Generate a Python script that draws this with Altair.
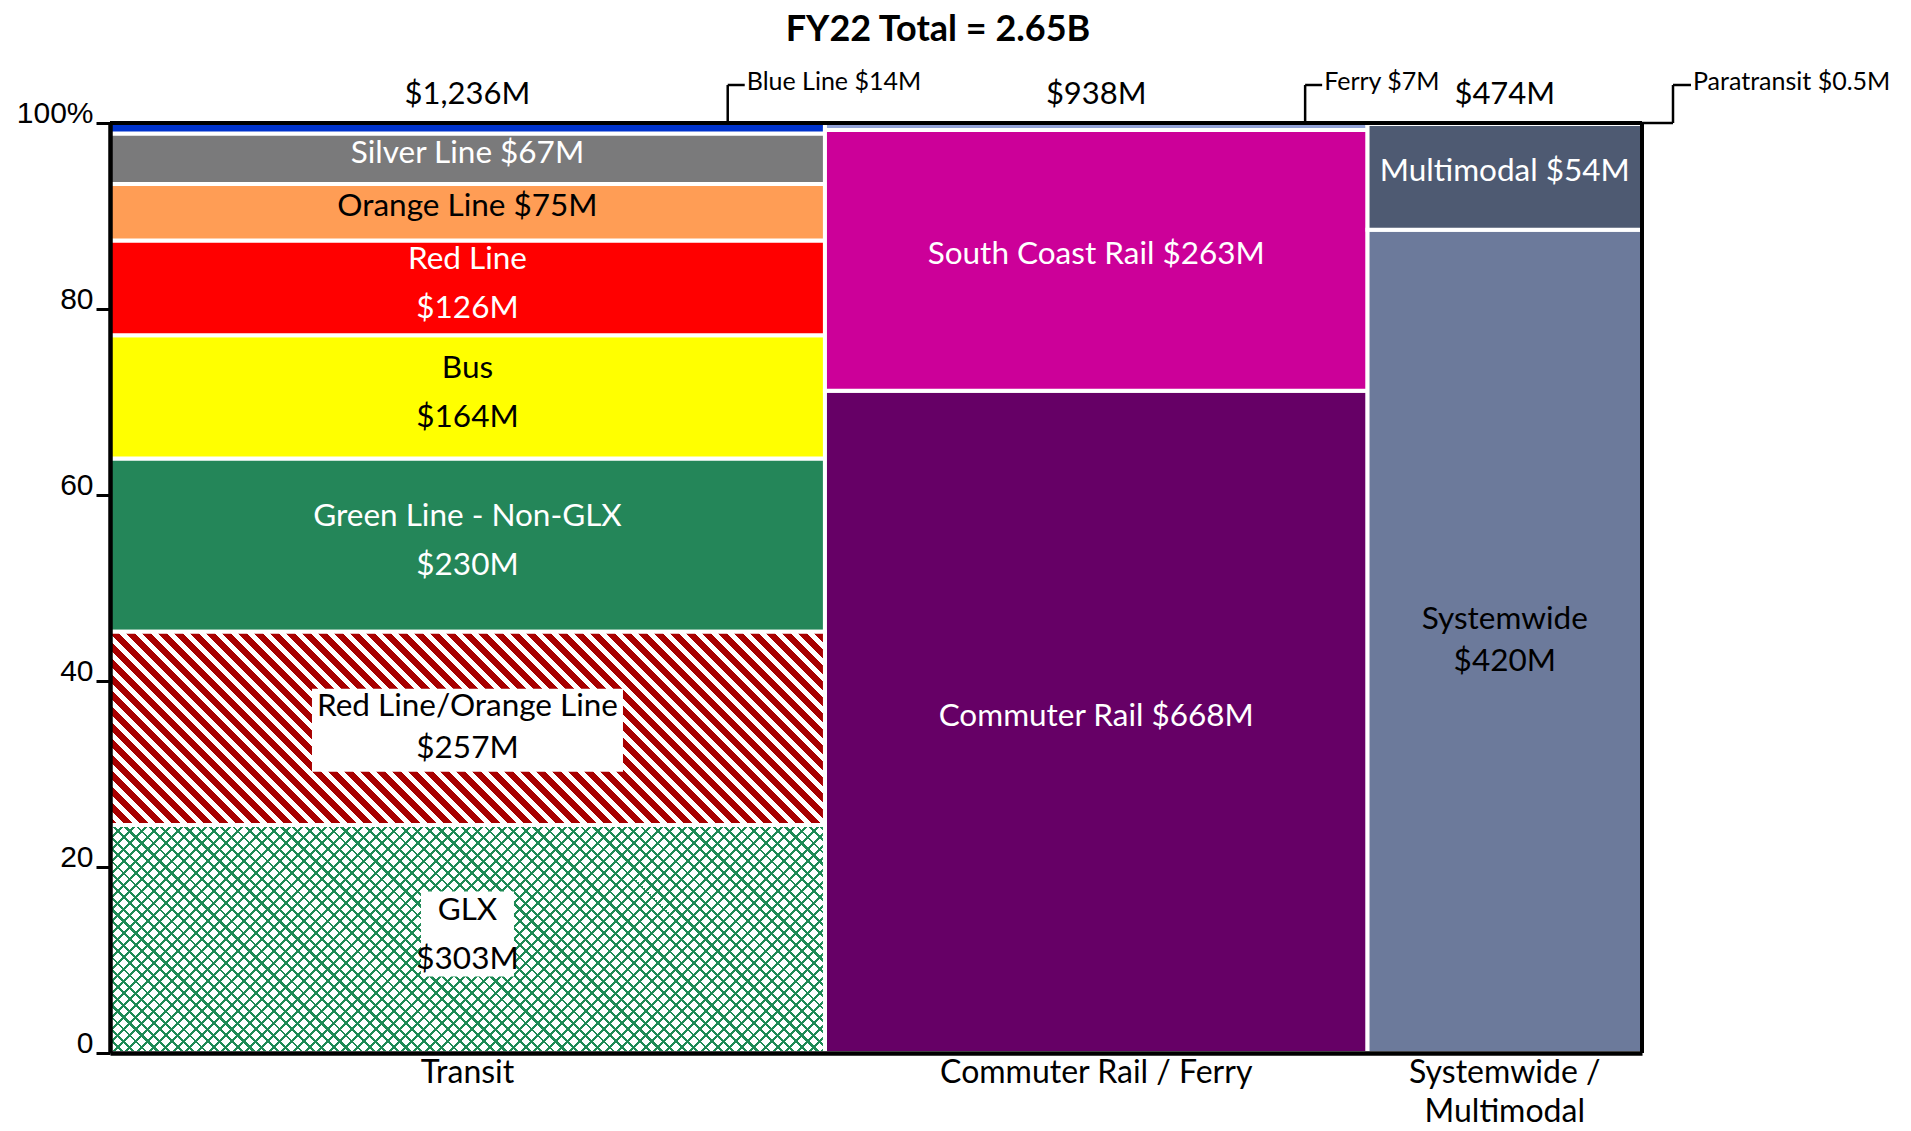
import altair as alt
import pandas as pd

# ---------------- data ----------------
title_text = "FY22 Total = 2.65B"
columns = ["Transit", "Commuter Rail / Ferry", "Systemwide / Multimodal"]
column_axis_labels = ["Transit", "Commuter Rail / Ferry", "Systemwide /\nMultimodal"]
column_total_labels = ["$1,236M", "$938M", "$474M"]

transit_names = ["GLX", "Red Line/Orange Line", "Green Line - Non-GLX", "Bus",
                 "Red Line", "Orange Line", "Silver Line", "Blue Line"]
transit_values = [303, 257, 230, 164, 126, 75, 67, 14]
cr_names = ["Commuter Rail", "South Coast Rail", "Ferry"]
cr_values = [668, 263, 7]
sys_names = ["Systemwide", "Multimodal", "Paratransit"]
sys_values = [420, 54, 0.5]

y_tick_values = [0, 0.2, 0.4, 0.6, 0.8, 1.0]

# ---------------- style ----------------
PLOT_W, PLOT_H = 1532, 930
FONT = "Lato"
FILL = {"Blue Line": "#0033cc", "Silver Line": "#7a7a7b", "Orange Line": "#ff9d55",
        "Red Line": "#ff0000", "Bus": "#ffff00", "Green Line - Non-GLX": "#248659",
        "Commuter Rail": "#660066", "South Coast Rail": "#cc0099", "Ferry": "#93a3d8",
        "Systemwide": "#6c7a9b", "Multimodal": "#4e5a72", "Paratransit": "#8090b0",
        "Red Line/Orange Line": "#a80000", "GLX": "#ffffff"}
TEXT_COLOR = {"Silver Line": "white", "Orange Line": "black", "Red Line": "white",
              "Bus": "black", "Green Line - Non-GLX": "white", "Red Line/Orange Line": "black",
              "GLX": "black", "Commuter Rail": "white", "South Coast Rail": "white",
              "Systemwide": "black", "Multimodal": "white"}
TWO_LINE_WIDE = {"Red Line", "Bus", "Green Line - Non-GLX", "GLX"}
TWO_LINE_TIGHT = {"Red Line/Orange Line", "Systemwide"}
CALLOUTS = {"Blue Line": 0.864, "Ferry": 0.885}   # leader position as share of column width
EDGE_CALLOUT = "Paratransit"
LABEL_BOX = {"Red Line/Orange Line": (311, 83, 2), "GLX": (93, 85, -5)}  # w, h, dy px

# ---------------- table ----------------
rows = []
cols = []
xcum = 0.0
for col, lab, tlab, names, vals in zip(columns, column_axis_labels, column_total_labels,
                                       [transit_names, cr_names, sys_names],
                                       [transit_values, cr_values, sys_values]):
    tot = sum(vals)
    ycum = 0.0
    for n, v in zip(names, vals):
        if n in TWO_LINE_WIDE or n in TWO_LINE_TIGHT:
            label = f"{n}\n${v:g}M"
        else:
            label = f"{n} ${v:g}M"
        rows.append(dict(col=col, name=n, value=v, x0=xcum, x1=xcum + tot,
                         y0=ycum / tot, y1=(ycum + v) / tot,
                         xc=xcum + tot / 2, yc=(ycum + v / 2) / tot,
                         label=label, fill=FILL[n], tcolor=TEXT_COLOR.get(n, "black"),
                         lx=xcum + CALLOUTS.get(n, 0) * tot))
        ycum += v
    cols.append(dict(col=col, xc=xcum + tot / 2, total=tlab, axis=lab))
    xcum += tot
TOTAL = xcum
df = pd.DataFrame(rows)
cdf = pd.DataFrame(cols)

xs = alt.Scale(domain=[0, TOTAL], nice=False, zero=False)
ys = alt.Scale(domain=[0, 1], nice=False, zero=False)


def stripes(W, H, period, frac, c_line, c_bg, back):
    k = (W + H) / (W * W + H * H)
    if back:  # "\" stripes
        x1, y1, x2, y2 = 0, 1, k * W, 1 - k * H
    else:     # "/" stripes
        x1, y1, x2, y2 = 0, 0, k * W, k * H
    n = (W + H) / period
    stops = []
    i = 0
    while i < n:
        a = min(i / n, 1)
        b = min((i + frac) / n, 1)
        c = min((i + 1) / n, 1)
        stops += [alt.GradientStop(offset=round(a, 5), color=c_line),
                  alt.GradientStop(offset=round(b, 5), color=c_line),
                  alt.GradientStop(offset=round(b, 5), color=c_bg),
                  alt.GradientStop(offset=round(c, 5), color=c_bg)]
        i += 1
    return alt.LinearGradient(gradient="linear", stops=stops, x1=x1, y1=y1, x2=x2, y2=y2)


transit_total = sum(transit_values)
W_tr = PLOT_W * transit_total / TOTAL
H_ro = PLOT_H * transit_values[transit_names.index("Red Line/Orange Line")] / transit_total
H_glx = PLOT_H * transit_values[transit_names.index("GLX")] / transit_total
grad_ro = stripes(W_tr, H_ro, 16, 0.56, "#a80000", "#ffffff", True)
grad_glx1 = stripes(W_tr, H_glx, 12, 0.25, "#1e8a55", "#ffffff", False)
grad_glx2 = stripes(W_tr, H_glx, 12, 0.25, "#1e8a55", "rgba(255,255,255,0)", True)

yaxis = alt.Axis(values=y_tick_values, title=None, grid=False,
                 labelExpr="datum.value == 1 ? '100%' : format(datum.value * 100, 'd')",
                 domainColor="black", domainWidth=4.5, tickColor="black", tickWidth=3,
                 tickSize=14, labelFont="Liberation Sans", labelFontSize=30,
                 labelColor="black", labelPadding=3, labelBaseline="alphabetic",
                 labelOffset=-1, zindex=1)
xaxis = alt.Axis(labels=False, ticks=False, title=None, grid=False, domainColor="black",
                 domainWidth=4.5, zindex=1)

hatched = set(LABEL_BOX)
base_enc = dict(x=alt.X("x0:Q", scale=xs, axis=xaxis), x2="x1:Q",
                y=alt.Y("y0:Q", scale=ys, axis=yaxis), y2="y1:Q")

solid = alt.Chart(df[~df.name.isin(hatched)]).mark_rect(stroke="white", strokeWidth=4).encode(
    fill=alt.Fill("fill:N", scale=None), **base_enc)
ro = alt.Chart(df[df.name == "Red Line/Orange Line"]).mark_rect(
    fill=grad_ro, stroke="white", strokeWidth=4).encode(**base_enc)
glx1 = alt.Chart(df[df.name == "GLX"]).mark_rect(
    fill=grad_glx1, stroke="white", strokeWidth=4).encode(**base_enc)
glx2 = alt.Chart(df[df.name == "GLX"]).mark_rect(
    fill=grad_glx2, stroke="white", strokeWidth=4).encode(**base_enc)

boxes = []
for n, (bw, bh, bdy) in LABEL_BOX.items():
    boxes.append(alt.Chart(df[df.name == n]).mark_rect(
        fill="white", xOffset=-bw / 2, x2Offset=bw / 2, yOffset=-bh / 2 + bdy, y2Offset=bh / 2 + bdy
    ).encode(x=alt.X("xc:Q", scale=xs), x2="xc:Q", y=alt.Y("yc:Q", scale=ys), y2="yc:Q"))

in_bar = df[df.name.isin(TEXT_COLOR.keys())]
label_layers = []
for subset, lh, dy in [(in_bar[~in_bar.name.isin(TWO_LINE_WIDE | TWO_LINE_TIGHT)], 40, -5),
                       (in_bar[in_bar.name.isin(TWO_LINE_WIDE)], 49, -28),
                       (in_bar[in_bar.name.isin(TWO_LINE_TIGHT)], 42, -21)]:
    label_layers.append(alt.Chart(subset).mark_text(
        font=FONT, fontSize=31.5, lineBreak="\n", lineHeight=lh, baseline="middle", dy=dy
    ).encode(x=alt.X("xc:Q", scale=xs), y=alt.Y("yc:Q", scale=ys), text="label:N",
             color=alt.Color("tcolor:N", scale=None)))

top_labels = alt.Chart(cdf).mark_text(font=FONT, fontSize=31, baseline="middle", color="black").encode(
    x=alt.X("xc:Q", scale=xs), y=alt.value(-28), text="total:N")
bottom_labels = alt.Chart(cdf).mark_text(font=FONT, fontSize=32, baseline="top", lineBreak="\n",
                                         lineHeight=39, color="black").encode(
    x=alt.X("xc:Q", scale=xs), y=alt.value(PLOT_H + 5), text="axis:N")

title = alt.Chart(cdf.head(1)).mark_text(font=FONT, fontSize=36, fontWeight="bold",
                                         baseline="middle", color="black").encode(
    x=alt.value(828), y=alt.value(-93), text=alt.value(title_text))

frame_top = alt.Chart(cdf.head(1)).mark_rule(color="black", strokeWidth=4).encode(
    x=alt.value(0), x2=alt.value(PLOT_W), y=alt.value(0))
frame_right = alt.Chart(cdf.head(1)).mark_rule(color="black", strokeWidth=4).encode(
    x=alt.value(PLOT_W), y=alt.value(0), y2=alt.value(PLOT_H))

call = df[df.name.isin(CALLOUTS.keys())].copy()
call["text"] = call.apply(lambda r: f"{r['name']} ${r['value']:g}M", axis=1)
c_vert = alt.Chart(call).mark_rule(color="black", strokeWidth=2.5).encode(
    x=alt.X("lx:Q", scale=xs), y=alt.value(0), y2=alt.value(-38))
c_stub = alt.Chart(call).mark_rule(color="black", strokeWidth=2.5, x2Offset=17).encode(
    x=alt.X("lx:Q", scale=xs), x2="lx:Q", y=alt.value(-38))
c_text = alt.Chart(call).mark_text(font=FONT, fontSize=25, align="left", baseline="middle",
                                   dx=19, color="black").encode(
    x=alt.X("lx:Q", scale=xs), y=alt.value(-41), text="text:N")

edge = df[df.name == EDGE_CALLOUT].copy()
edge["text"] = edge.apply(lambda r: f"{r['name']} ${r['value']:g}M", axis=1)
edge["ex"] = TOTAL
e_h = alt.Chart(edge).mark_rule(color="black", strokeWidth=2.5, x2Offset=31).encode(
    x=alt.X("ex:Q", scale=xs), x2="ex:Q", y=alt.value(0))
e_v = alt.Chart(edge).mark_rule(color="black", strokeWidth=2.5, xOffset=31).encode(
    x=alt.X("ex:Q", scale=xs), y=alt.value(0), y2=alt.value(-38))
e_stub = alt.Chart(edge).mark_rule(color="black", strokeWidth=2.5, xOffset=31, x2Offset=49).encode(
    x=alt.X("ex:Q", scale=xs), x2="ex:Q", y=alt.value(-38))
e_text = alt.Chart(edge).mark_text(font=FONT, fontSize=25, align="left", baseline="middle",
                                   dx=51, color="black").encode(
    x=alt.X("ex:Q", scale=xs), y=alt.value(-41), text="text:N")

chart = alt.layer(
    solid, ro, glx1, glx2, *boxes, *label_layers, top_labels, bottom_labels, title,
    frame_top, frame_right, c_vert, c_stub, c_text, e_h, e_v, e_stub, e_text
).properties(
    width=PLOT_W, height=PLOT_H,
    padding={"left": 102, "top": 115, "right": 261, "bottom": 80},
    autosize=alt.AutoSizeParams(type="none"),
).configure_view(stroke=None).configure(background="white")

chart.save("out.html", embed_options={"renderer": "svg", "actions": False})
